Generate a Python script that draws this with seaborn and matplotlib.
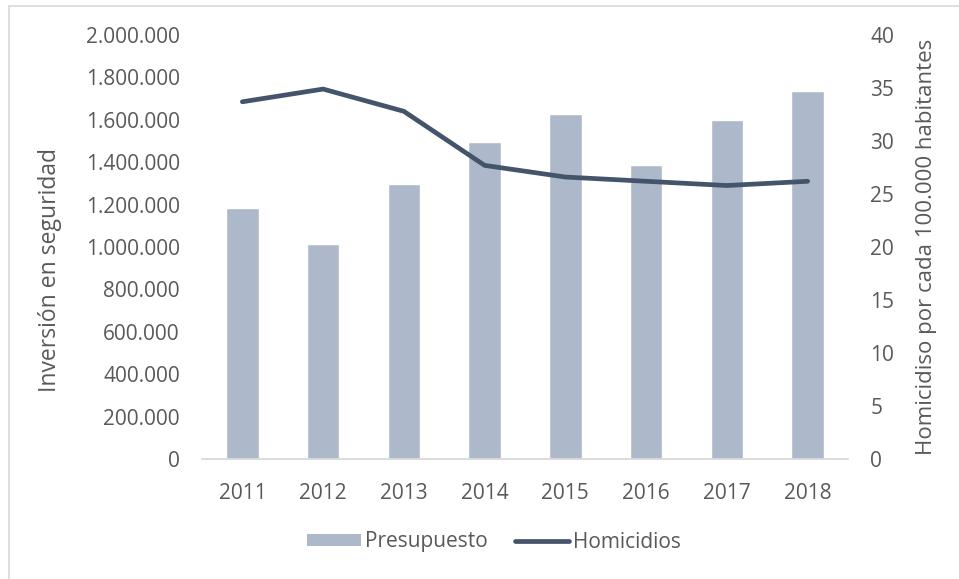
import matplotlib
matplotlib.use("Agg")
import matplotlib.pyplot as plt
from matplotlib.lines import Line2D
from matplotlib.patches import Patch
from matplotlib.ticker import FuncFormatter
import seaborn as sns
import pandas as pd

years = ["2011", "2012", "2013", "2014", "2015", "2016", "2017", "2018"]
presupuesto = [1184000, 1014000, 1297000, 1495000, 1627000, 1387000, 1599000, 1736000]
homicidios = [33.7, 34.9, 32.8, 27.7, 26.6, 26.2, 25.8, 26.2]

left_ticks = [0, 200000, 400000, 600000, 800000, 1000000, 1200000, 1400000, 1600000, 1800000, 2000000]
right_ticks = [0, 5, 10, 15, 20, 25, 30, 35, 40]

BAR_COLOR = "#ADB9CA"
LINE_COLOR = "#44546A"
TEXT_COLOR = "#595959"
AXIS_COLOR = "#D9D9D9"

sns.set_theme(style="white")
plt.rcParams["font.family"] = ["Open Sans", "DejaVu Sans"]

df = pd.DataFrame({"year": years, "presupuesto": presupuesto, "homicidios": homicidios})

fig = plt.figure(figsize=(9.59, 5.79), dpi=100)
ax = fig.add_axes([202 / 959, 1 - 459 / 579, 646 / 959, 424 / 579])

sns.barplot(data=df, x="year", y="presupuesto", color=BAR_COLOR, width=0.4,
            saturation=1, ax=ax, zorder=2)
ax.set_ylim(0, 2000000)
ax.set_xlim(-0.5, len(years) - 0.5)
ax.set_yticks(left_ticks)
ax.yaxis.set_major_formatter(FuncFormatter(lambda v, p: f"{int(v):,}".replace(",", ".")))
ax.set_xlabel("")
ax.set_ylabel("Inversión en seguridad", fontsize=16.5, color=TEXT_COLOR)
ax.yaxis.set_label_coords(-0.216, 0.446)
ax.tick_params(axis="both", length=0, labelsize=15, colors=TEXT_COLOR)
ax.tick_params(axis="y", pad=16)
ax.tick_params(axis="x", pad=17)
for side in ["top", "right", "left"]:
    ax.spines[side].set_visible(False)
ax.spines["bottom"].set_color(AXIS_COLOR)
ax.spines["bottom"].set_linewidth(1.3)

ax2 = ax.twinx()
sns.lineplot(data=df, x="year", y="homicidios", color=LINE_COLOR, linewidth=3.4,
             solid_capstyle="round", ax=ax2, zorder=3)
ax2.set_ylim(0, 40)
ax2.set_yticks(right_ticks)
ax2.set_ylabel("Homicidiso por cada 100.000 habitantes", fontsize=16, color=TEXT_COLOR, labelpad=16)
ax2.set_xlabel("")
ax2.tick_params(axis="y", length=0, labelsize=15, colors=TEXT_COLOR, pad=16)
for side in ["top", "right", "left", "bottom"]:
    ax2.spines[side].set_visible(False)
ax2.grid(False)
ax.grid(False)

handles = [Patch(facecolor=BAR_COLOR, edgecolor="none"),
           Line2D([0], [0], color=LINE_COLOR, linewidth=3.4, solid_capstyle="round")]
fig.legend(handles, ["Presupuesto", "Homicidios"], loc="center", bbox_to_anchor=(494 / 959, 1 - 542 / 579),
           ncol=2, frameon=False, fontsize=15, labelcolor=TEXT_COLOR,
           handlelength=2.6, handleheight=0.55, handletextpad=0.2, columnspacing=1.3)

# Light frame around the chart area
fig.add_artist(Line2D([8.5 / 959, 8.5 / 959], [0, 1 - 5.5 / 579], color=AXIS_COLOR, linewidth=1.2))
fig.add_artist(Line2D([8.5 / 959, 1], [1 - 5.5 / 579, 1 - 5.5 / 579], color=AXIS_COLOR, linewidth=1.2))

fig.savefig("out.png", dpi=100, facecolor="white")
